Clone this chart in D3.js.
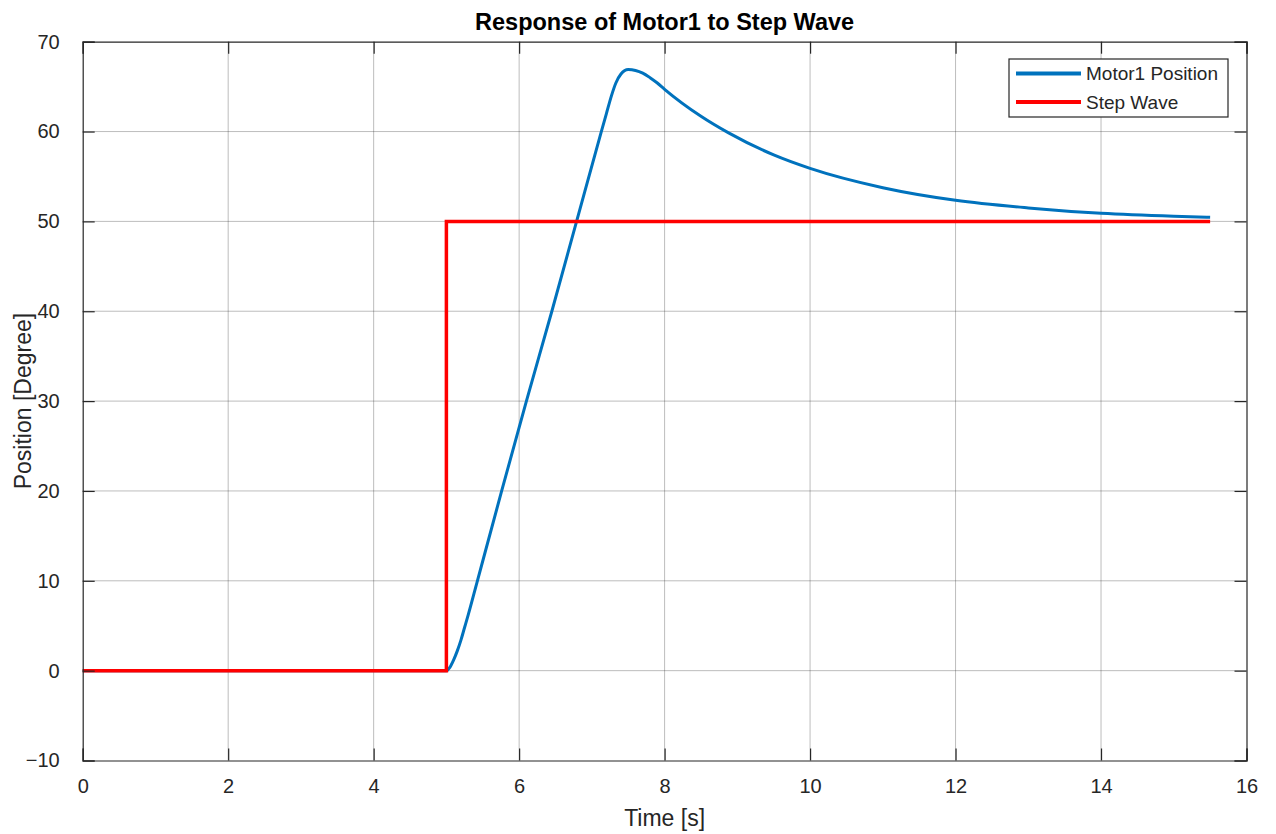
<!DOCTYPE html>
<html>
<head>
<meta charset="utf-8">
<script src="https://cdn.jsdelivr.net/npm/d3@7"></script>
<style>
  html, body { margin: 0; padding: 0; background: #fff; }
  svg { display: block; font-family: "Liberation Sans", Arial, sans-serif; }
</style>
</head>
<body>
<div id="chart"></div>
<script>
// data
const motorTime = [0, 5.0, 5.05, 5.1, 5.15, 5.2, 5.25, 5.3, 5.42, 5.76, 6.10, 6.45, 6.79, 7.13, 7.2, 7.27, 7.33, 7.4, 7.5, 7.6, 7.7, 7.8, 7.9, 8.0, 8.5, 8.88, 9.5, 10, 11, 12, 13, 14, 15, 15.5];
const motorPos  = [0, 0, 0.4, 1.2, 2.2, 3.4, 4.8, 6.2, 9.8, 20, 30, 40, 50, 60, 62.0, 64.0, 65.4, 66.4, 66.9, 66.8, 66.5, 66.0, 65.4, 64.7, 61.7, 59.85, 57.4, 55.9, 53.75, 52.35, 51.5, 50.9, 50.57, 50.46];
const stepTime  = [0, 5, 5, 15.5];
const stepVal   = [0, 0, 50, 50];
const xTicks = [0, 2, 4, 6, 8, 10, 12, 14, 16];
const yTicks = [-10, 0, 10, 20, 30, 40, 50, 60, 70];
const legendNames = ["Motor1 Position", "Step Wave"];
const seriesColors = ["#0072BD", "#FF0000"];

const W = 1276, H = 834;
const margin = {top: 41.7, right: 29.5, bottom: 73.5, left: 82.7};
const width = W - margin.left - margin.right,
      height = H - margin.top - margin.bottom;
const axisCol = "#262626";

const svg = d3.select("#chart").append("svg").attr("width", W).attr("height", H);
const g = svg.append("g").attr("transform", `translate(${margin.left},${margin.top})`);

const x = d3.scaleLinear().domain([0, 16]).range([0, width]);
const y = d3.scaleLinear().domain([-10, 70]).range([height, 0]);

// grid
g.append("g").selectAll("line").data(xTicks.slice(1, -1)).join("line")
  .attr("x1", d => x(d)).attr("x2", d => x(d)).attr("y1", 0).attr("y2", height)
  .attr("stroke", axisCol).attr("stroke-opacity", 0.3).attr("stroke-width", 1);
g.append("g").selectAll("line").data(yTicks.slice(1, -1)).join("line")
  .attr("y1", d => y(d)).attr("y2", d => y(d)).attr("x1", 0).attr("x2", width)
  .attr("stroke", axisCol).attr("stroke-opacity", 0.3).attr("stroke-width", 1);

// series
const motorData = motorTime.map((t, i) => ({t, v: motorPos[i]}));
const stepData = stepTime.map((t, i) => ({t, v: stepVal[i]}));
g.append("path").datum(motorData)
  .attr("fill", "none").attr("stroke", seriesColors[0]).attr("stroke-width", 3)
  .attr("d", d3.line().x(d => x(d.t)).y(d => y(d.v)).curve(d3.curveMonotoneX));
g.append("path").datum(stepData)
  .attr("fill", "none").attr("stroke", seriesColors[1]).attr("stroke-width", 3.5)
  .attr("d", d3.line().x(d => x(d.t)).y(d => y(d.v)));

// axes, MATLAB style: box with inward ticks on all sides
const tl = 12;
const xb = g.append("g").attr("transform", `translate(0,${height})`)
  .call(d3.axisBottom(x).tickValues(xTicks).tickSize(-tl).tickPadding(tl + 6));
const xt = g.append("g").call(d3.axisTop(x).tickValues(xTicks).tickSize(-tl).tickFormat(""));
const yl = g.append("g").call(d3.axisLeft(y).tickValues(yTicks).tickSize(-tl).tickPadding(tl + 11));
const yr = g.append("g").attr("transform", `translate(${width},0)`)
  .call(d3.axisRight(y).tickValues(yTicks).tickSize(-tl).tickFormat(""));
[xb, xt, yl, yr].forEach(a => {
  a.select(".domain").attr("stroke", axisCol).attr("stroke-width", 1.2);
  a.selectAll(".tick line").attr("stroke", axisCol).attr("stroke-width", 1.2);
  a.selectAll("text").attr("fill", axisCol).style("font-size", "20px")
    .style("font-family", '"Liberation Sans", Arial, sans-serif');
});
xb.selectAll("text").attr("dy", "0.71em");

// labels
svg.append("text").attr("x", margin.left + width / 2).attr("y", 30)
  .attr("text-anchor", "middle").attr("fill", "#000").style("font-weight", "bold").style("font-size", "23.5px")
  .text("Response of Motor1 to Step Wave");
svg.append("text").attr("x", margin.left + width / 2).attr("y", 826)
  .attr("text-anchor", "middle").attr("fill", axisCol).style("font-size", "23px")
  .text("Time [s]");
svg.append("text").attr("transform", `translate(31,${margin.top + height / 2}) rotate(-90)`)
  .attr("text-anchor", "middle").attr("fill", axisCol).style("font-size", "23px")
  .text("Position [Degree]");

// legend
const leg = svg.append("g").attr("transform", "translate(1009,59)");
leg.append("rect").attr("width", 219).attr("height", 58)
  .attr("fill", "#fff").attr("stroke", axisCol).attr("stroke-width", 1.2);
legendNames.forEach((name, i) => {
  const cy = 14.5 + i * 28.5;
  leg.append("line").attr("x1", 7).attr("x2", 72).attr("y1", cy).attr("y2", cy)
    .attr("stroke", seriesColors[i]).attr("stroke-width", 4);
  leg.append("text").attr("x", 77).attr("y", cy).attr("dy", "0.35em")
    .attr("fill", axisCol).style("font-size", "19px").text(name);
});
</script>
</body>
</html>
